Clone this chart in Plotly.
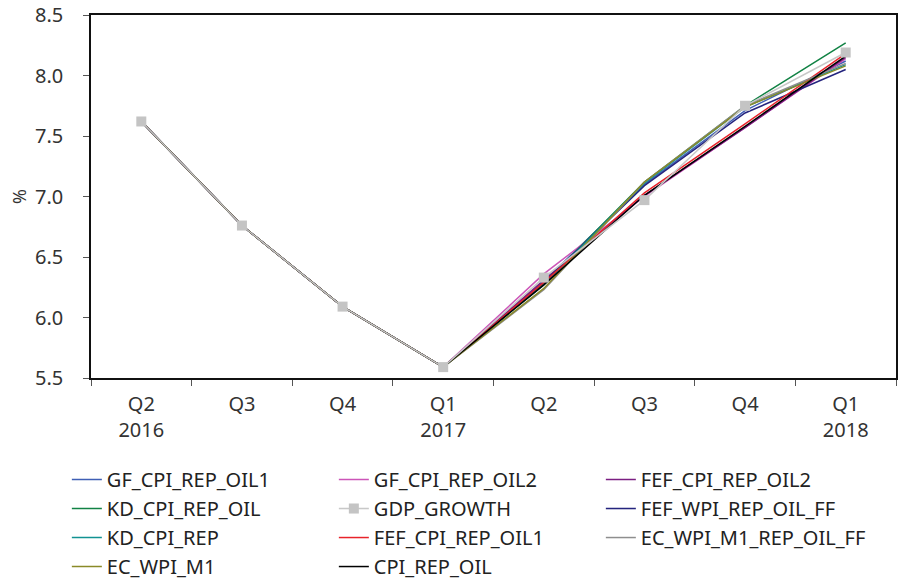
import plotly.graph_objects as go

quarters = ["Q2<br>2016", "Q3", "Q4", "Q1<br>2017", "Q2", "Q3", "Q4", "Q1<br>2018"]
xpos = [0, 1, 2, 3, 4, 5, 6, 7]

history = [7.62, 6.76, 6.09, 5.59]

# forecasts from Q2 2017 to Q1 2018
GF_CPI_REP_OIL1 = history + [6.30, 7.10, 7.71, 8.12]
GF_CPI_REP_OIL2 = history + [6.36, 7.00, 7.57, 8.14]
FEF_CPI_REP_OIL2 = history + [6.31, 7.01, 7.57, 8.15]
KD_CPI_REP_OIL = history + [6.28, 7.12, 7.75, 8.27]
GDP_GROWTH = history + [6.33, 6.97, 7.75, 8.19]
FEF_WPI_REP_OIL_FF = history + [6.29, 7.09, 7.69, 8.05]
KD_CPI_REP = history + [6.27, 7.11, 7.74, 8.09]
FEF_CPI_REP_OIL1 = history + [6.29, 7.03, 7.60, 8.18]
EC_WPI_M1_REP_OIL_FF = history + [6.23, 7.12, 7.75, 8.10]
EC_WPI_M1 = history + [6.24, 7.12, 7.74, 8.08]
CPI_REP_OIL = history + [6.27, 7.01, 7.58, 8.16]

series = [
    ("GF_CPI_REP_OIL1", GF_CPI_REP_OIL1, "#3f5fb5"),
    ("GF_CPI_REP_OIL2", GF_CPI_REP_OIL2, "#cc55b8"),
    ("FEF_CPI_REP_OIL2", FEF_CPI_REP_OIL2, "#7b1f82"),
    ("KD_CPI_REP_OIL", KD_CPI_REP_OIL, "#118244"),
    ("GDP_GROWTH", GDP_GROWTH, "#c8c8c8"),
    ("FEF_WPI_REP_OIL_FF", FEF_WPI_REP_OIL_FF, "#24247e"),
    ("KD_CPI_REP", KD_CPI_REP, "#129292"),
    ("FEF_CPI_REP_OIL1", FEF_CPI_REP_OIL1, "#e8232a"),
    ("EC_WPI_M1_REP_OIL_FF", EC_WPI_M1_REP_OIL_FF, "#8e8e8e"),
    ("EC_WPI_M1", EC_WPI_M1, "#8a8a28"),
    ("CPI_REP_OIL", CPI_REP_OIL, "#000000"),
]

fig = go.Figure()
draw_order = [s for s in series if s[0] != "GDP_GROWTH"] + [s for s in series if s[0] == "GDP_GROWTH"]
legend_rank = {s[0]: i for i, s in enumerate(series)}
for name, vals, color in draw_order:
    is_gdp = name == "GDP_GROWTH"
    fig.add_trace(go.Scatter(
        x=xpos, y=vals, name=name,
        mode="lines+markers" if is_gdp else "lines",
        line=dict(color=color, width=1.5),
        marker=dict(symbol="square", size=10, color="#c4c4c4") if is_gdp else None,
        legendrank=legend_rank[name] + 1,
    ))

font = "'Noto Sans', sans-serif"
fig.update_layout(
    width=899, height=580,
    margin=dict(l=91, r=3, t=15, b=202, autoexpand=False),
    plot_bgcolor="white", paper_bgcolor="white",
    font=dict(family=font, size=20, color="#333333"),
    showlegend=True,
    legend=dict(
        orientation="h", x=-0.03, xanchor="left", y=-0.226, yanchor="top",
        entrywidth=222, entrywidthmode="pixels",
        font=dict(family=font, size=20, color="#222222"),
        traceorder="normal", itemwidth=30, tracegroupgap=0,
    ),
    xaxis=dict(
        range=[-0.5, 7.5], tickmode="array", tickvals=xpos, ticktext=quarters,
        ticks="", showgrid=False, zeroline=False,
        showline=True, linecolor="#111111", linewidth=2, mirror=True,
        minor=dict(ticks="outside", tick0=-0.5, dtick=1, ticklen=6, tickcolor="#555555", tickwidth=1, showgrid=False),
        ticklabelstandoff=7,
    ),
    yaxis=dict(
        range=[5.5, 8.5], dtick=0.5, tick0=5.5, tickformat=".1f",
        ticks="outside", ticklen=6, tickcolor="#555555",
        showgrid=False, zeroline=False,
        showline=True, linecolor="#111111", linewidth=1.5, mirror=True,
        ticklabelstandoff=16,
        title=dict(text="%", standoff=4, font=dict(size=18)),
    ),
)

fig.write_html("out.html", config={"displayModeBar": False},
               post_script="document.body.style.margin='0';document.body.style.padding='0';")
